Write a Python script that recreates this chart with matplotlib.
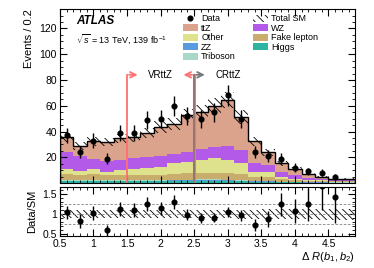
import numpy as np
import matplotlib
matplotlib.use("Agg")
import matplotlib.pyplot as plt
from matplotlib.patches import Patch
from matplotlib.lines import Line2D
from matplotlib.ticker import MultipleLocator

plt.rcParams['font.family'] = ['Liberation Sans', 'DejaVu Sans']
plt.rcParams['mathtext.fontset'] = 'custom'
plt.rcParams['mathtext.rm'] = 'Liberation Sans'
plt.rcParams['mathtext.it'] = 'Liberation Sans:italic'
plt.rcParams['hatch.linewidth'] = 0.6

# ---- data ----
edges = np.round(np.arange(0.5, 4.91, 0.2), 2)

total_sm = [35.5, 28.8, 32.3, 32.0, 34.7, 35.4, 39.0, 43.5, 46.0, 52.5, 55.0,
            60.0, 64.5, 51.3, 32.5, 23.8, 15.2, 11.1, 7.2, 4.7, 3.5, 3.4]
wz_top = [23.9, 21.3, 18.7, 17.4, 18.0, 19.2, 20.0, 21.0, 22.6, 24.4, 26.2,
          27.8, 28.8, 25.7, 15.3, 14.0, 8.8, 6.0, 3.6, 3.0, 2.2, 2.2]
other_top = [10.6, 9.3, 10.6, 8.8, 10.0, 10.6, 11.4, 12.7, 15.3, 16.6, 18.0,
             19.2, 17.9, 15.3, 8.8, 8.2, 4.9, 3.5, 2.5, 2.0, 1.6, 1.6]
fake_top = [6.8, 6.2, 6.8, 6.0, 6.2, 6.2, 6.4, 6.5, 6.8, 7.5, 7.5,
            7.5, 7.5, 7.0, 5.0, 4.8, 3.2, 2.5, 1.8, 1.5, 1.2, 1.2]
higgs = [1.2, 1.2, 1.2, 1.2, 1.2, 1.2, 1.2, 1.2, 1.2, 1.2, 1.2,
         1.2, 1.2, 1.2, 0.9, 0.8, 0.6, 0.5, 0.4, 0.3, 0.3, 0.3]
triboson = [0.3, 0.3, 0.3, 0.3, 0.3, 0.3, 0.3, 0.3, 0.3, 0.3, 0.3,
            0.3, 0.3, 0.3, 0.2, 0.2, 0.2, 0.1, 0.1, 0.1, 0.1, 0.1]
zz = [0.5, 0.5, 0.5, 0.5, 0.5, 0.5, 0.5, 0.6, 0.8, 1.2, 1.3,
      1.3, 1.0, 0.7, 0.5, 0.4, 0.3, 0.3, 0.2, 0.2, 0.1, 0.1]
sm_rel_unc = [0.10, 0.10, 0.10, 0.10, 0.10, 0.10, 0.10, 0.10, 0.10, 0.10, 0.10,
              0.10, 0.10, 0.11, 0.11, 0.12, 0.12, 0.13, 0.13, 0.14, 0.14, 0.14]

data_x = [0.6, 0.8, 1.0, 1.2, 1.4, 1.6, 1.8, 2.0, 2.2, 2.4, 2.6, 2.8, 3.0,
          3.2, 3.4, 3.6, 3.8, 4.0, 4.2, 4.4, 4.6]
data_y = [37, 24, 33, 19, 39, 39, 49, 50, 60, 52, 50, 55, 68,
          50, 24, 21, 19, 12, 9, 8, 5]

# ---- derived components ----
total_sm = np.array(total_sm)
higgs = np.array(higgs)
triboson = np.array(triboson)
zz = np.array(zz)
fake = np.array(fake_top) - higgs - triboson - zz
other = np.array(other_top) - np.array(fake_top)
wz = np.array(wz_top) - np.array(other_top)
ttz = total_sm - np.array(wz_top)

colors = {
    'Higgs': '#2db5a2',
    'Triboson': '#a9d9c6',
    'ZZ': '#5a9be0',
    'Fake lepton': '#c9ad6c',
    'Other': '#dfe28c',
    'WZ': '#b35ae9',
    'ttZ': '#dca38c',
}
stack = [('Higgs', higgs), ('ZZ', zz), ('Triboson', triboson),
         ('Fake lepton', fake), ('Other', other), ('WZ', wz), ('ttZ', ttz)]

fig = plt.figure(figsize=(3.74, 2.68), dpi=100)
ax = fig.add_axes([0.16, 0.317, 0.79, 0.649])
rax = fig.add_axes([0.16, 0.119, 0.79, 0.183], sharex=ax)

base = np.zeros_like(total_sm)
for name, vals in stack:
    ax.stairs(base + vals, edges, baseline=base, fill=True,
              color=colors[name], lw=0)
    base = base + vals

unc = total_sm * np.array(sm_rel_unc)
ext_up = np.append(total_sm + unc, (total_sm + unc)[-1])
ext_dn = np.append(total_sm - unc, (total_sm - unc)[-1])
ax.fill_between(edges, ext_dn, ext_up, step='post', facecolor='none',
                edgecolor='black', hatch='\\\\\\\\', lw=0)
ax.stairs(total_sm, edges, color='black', lw=1.0)

data_y = np.array(data_y, dtype=float)
ax.errorbar(data_x, data_y, yerr=np.sqrt(data_y), fmt='o', color='black',
            ms=3.4, elinewidth=1.0, capsize=0, zorder=5)

# region markers
ytop = 84
ax.plot([1.5, 1.5], [0, ytop], color='#ff7070', lw=1.3, zorder=6)
ax.plot([2.5, 2.5], [0, ytop], color='#ff7070', lw=2.2, zorder=6)
ax.plot([2.5, 2.5], [0, ytop], color='#777777', lw=1.1, zorder=7)
ax.annotate('', xy=(1.7, ytop), xytext=(1.49, ytop),
            arrowprops=dict(arrowstyle='->', color='#ff7070', lw=1.3))
ax.annotate('', xy=(2.3, ytop), xytext=(2.51, ytop),
            arrowprops=dict(arrowstyle='->', color='#ff7070', lw=1.3))
ax.annotate('', xy=(2.7, ytop), xytext=(2.49, ytop),
            arrowprops=dict(arrowstyle='->', color='#777777', lw=1.3))
ax.text(2.0, ytop, 'VRttZ', ha='center', va='center', fontsize=7)
ax.text(3.0, ytop, 'CRttZ', ha='center', va='center', fontsize=7)

ax.set_xlim(0.5, 4.9)
ax.set_ylim(0, 135)
ax.set_yticks([20, 40, 60, 80, 100, 120])
ax.yaxis.set_minor_locator(MultipleLocator(5))
ax.xaxis.set_minor_locator(MultipleLocator(0.1))
ax.xaxis.set_major_locator(MultipleLocator(0.5))
ax.tick_params(labelbottom=False)
ax.set_ylabel('Events / 0.2', fontsize=8, loc='top')

for a in (ax, rax):
    a.tick_params(which='both', direction='in', top=True, right=True,
                  labelsize=7.5, pad=2)
    a.tick_params(which='major', length=5, width=0.8)
    a.tick_params(which='minor', length=2.5, width=0.6)
    for s in a.spines.values():
        s.set_linewidth(0.8)

ax.text(0.055, 0.93, 'ATLAS', transform=ax.transAxes, fontsize=8.5,
        fontweight='bold', fontstyle='italic', va='center')
ax.text(0.055, 0.83, r'$\sqrt{s}$ = 13 TeV, 139 fb$^{-1}$',
        transform=ax.transAxes, fontsize=6.5, va='center')

handles = [
    Line2D([], [], marker='o', color='black', ms=3.4, ls='none'),
    Patch(facecolor=colors['ttZ'], lw=0),
    Patch(facecolor=colors['Other'], lw=0),
    Patch(facecolor=colors['ZZ'], lw=0),
    Patch(facecolor=colors['Triboson'], lw=0),
    Patch(facecolor='none', edgecolor='black', hatch='\\\\\\\\', lw=0),
    Patch(facecolor=colors['WZ'], lw=0),
    Patch(facecolor=colors['Fake lepton'], lw=0),
    Patch(facecolor=colors['Higgs'], lw=0),
]
labels = ['Data', 'ttZ', 'Other', 'ZZ', 'Triboson',
          'Total SM', 'WZ', 'Fake lepton', 'Higgs']
ax.legend(handles, labels, ncol=2, frameon=False, fontsize=6.5,
          loc='upper left', bbox_to_anchor=(0.405, 0.99),
          handlelength=1.6, handleheight=0.8, handletextpad=0.4,
          labelspacing=0.05, columnspacing=1.9, borderaxespad=0)

# ratio panel
ratio = data_y / total_sm[:len(data_y)]
rerr = np.sqrt(data_y) / total_sm[:len(data_y)]
rup = np.append(1 + np.array(sm_rel_unc), 1 + sm_rel_unc[-1])
rdn = np.append(1 - np.array(sm_rel_unc), 1 - sm_rel_unc[-1])
rax.fill_between(edges, rdn, rup, step='post', facecolor='none',
                 edgecolor='black', hatch='\\\\\\\\\\', lw=0)
for yv in (0.75, 1.0, 1.25):
    rax.axhline(yv, color='gray', ls='--', lw=0.6, dashes=(3, 2))
rax.errorbar(data_x, ratio, yerr=rerr, fmt='o', color='black', ms=3.4,
             elinewidth=1.0, capsize=0, zorder=5)
rax.set_ylim(0.45, 1.68)
rax.set_yticks([0.5, 1, 1.5])
rax.set_yticklabels(['0.5', '1', '1.5'])
rax.yaxis.set_minor_locator(MultipleLocator(0.1))
rax.set_xticks([0.5, 1, 1.5, 2, 2.5, 3, 3.5, 4, 4.5])
rax.set_xticklabels(['0.5', '1', '1.5', '2', '2.5', '3', '3.5', '4', '4.5'])
rax.set_ylabel('Data/SM', fontsize=8)
rax.set_xlabel(r'$\Delta$ $R(b_{1},b_{2})$', fontsize=8, loc='right',
               labelpad=1)

fig.align_ylabels([ax, rax])
fig.savefig('out.png', dpi=100)
